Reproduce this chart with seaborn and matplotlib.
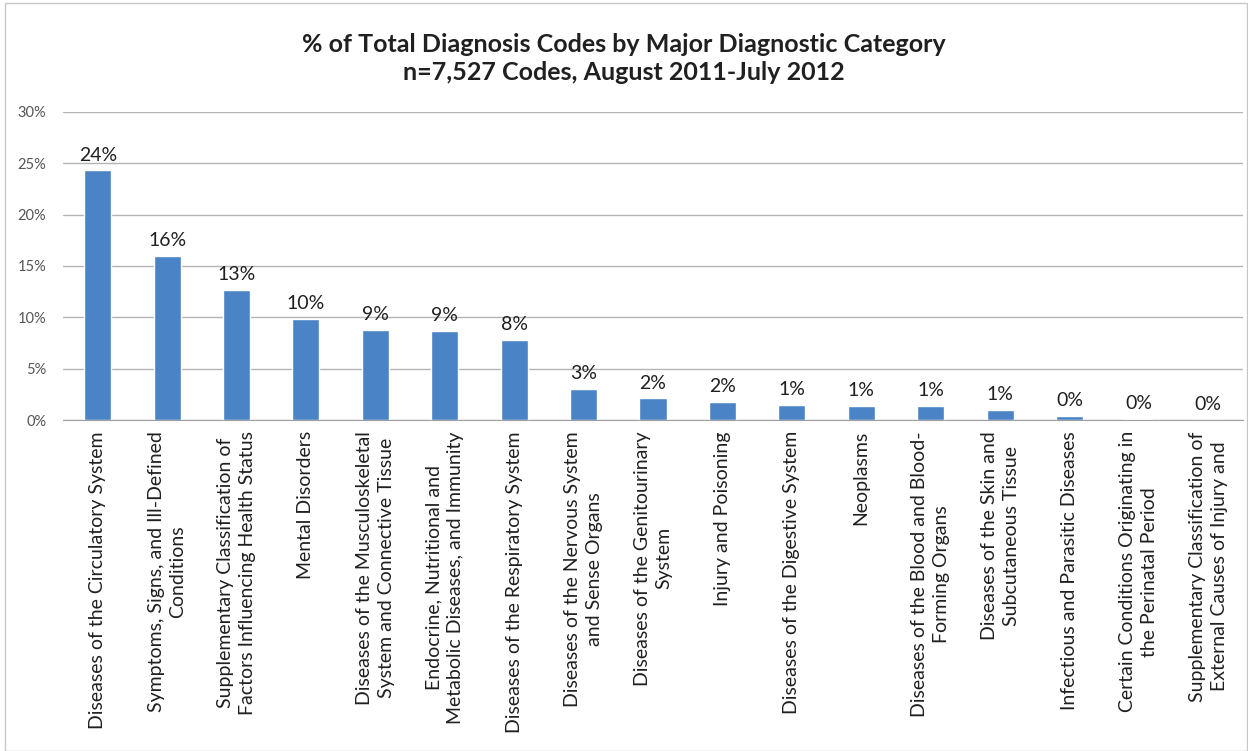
import matplotlib
matplotlib.use("Agg")
import matplotlib.pyplot as plt
from matplotlib.patches import Rectangle
import pandas as pd
import seaborn as sns

# categories and share of total codes
categories = [
    "Diseases of the Circulatory System",
    "Symptoms, Signs, and Ill-Defined\nConditions",
    "Supplementary Classification of\nFactors Influencing Health Status",
    "Mental Disorders",
    "Diseases of the Musculoskeletal\nSystem and Connective Tissue",
    "Endocrine, Nutritional and\nMetabolic Diseases, and Immunity",
    "Diseases of the Respiratory System",
    "Diseases of the Nervous System\nand Sense Organs",
    "Diseases of the Genitourinary\nSystem",
    "Injury and Poisoning",
    "Diseases of the Digestive System",
    "Neoplasms",
    "Diseases of the Blood and Blood-\nForming Organs",
    "Diseases of the Skin and\nSubcutaneous Tissue",
    "Infectious and Parasitic Diseases",
    "Certain Conditions Originating in\nthe Perinatal Period",
    "Supplementary Classification of\nExternal Causes of Injury and",
]
shares = [0.243, 0.160, 0.127, 0.098, 0.088, 0.087, 0.078, 0.030, 0.021,
          0.018, 0.0145, 0.014, 0.014, 0.010, 0.004, 0.001, 0.0005]
y_ticks = [0, 0.05, 0.10, 0.15, 0.20, 0.25, 0.30]

df = pd.DataFrame({"category": categories, "share": shares})

sns.set_style("white")
plt.rcParams["font.family"] = ["Lato", "DejaVu Sans"]

fig = plt.figure(figsize=(12.48, 7.51), dpi=100)
ax = fig.add_axes([0.0505, 0.4407, 0.9455, 0.4103])

sns.barplot(data=df, x="category", y="share", color="#4a84c6",
            saturation=1, width=0.39, ax=ax)

ax.set_ylim(0, 0.30)
ax.set_xlim(-0.5, len(categories) - 0.5)
ax.set_yticks(y_ticks)
ax.set_yticklabels([f"{t:.0%}" for t in y_ticks], fontsize=10.5, color="#555555")
ax.yaxis.grid(True, color="#b4b4b4", linewidth=1)
ax.set_axisbelow(True)
for s in ["top", "right", "left"]:
    ax.spines[s].set_visible(False)
ax.spines["bottom"].set_color("#a0a0a0")
ax.tick_params(axis="y", length=0, pad=12)
ax.tick_params(axis="x", length=0, pad=8)

ax.set_xticks(range(len(categories)))
ax.set_xticklabels(categories, rotation=90, ha="center", va="top",
                   multialignment="center", fontsize=14, color="#202020",
                   linespacing=1.35)
ax.set_xlabel("")
ax.set_ylabel("")

ax.bar_label(ax.containers[0], labels=[f"{v:.0%}" for v in shares],
             padding=5, fontsize=14, color="#202020")

fig.text(0.5, 0.922, "% of Total Diagnosis Codes by Major Diagnostic Category\n"
         "n=7,527 Codes, August 2011-July 2012",
         ha="center", va="center", fontsize=18, fontweight="bold",
         color="#202020", linespacing=1.25)

fig.patches.append(Rectangle((0.004, 0.0), 0.995, 0.996, transform=fig.transFigure,
                             fill=False, edgecolor="#c8c8c8", linewidth=1))

fig.savefig("out.png", dpi=100)
